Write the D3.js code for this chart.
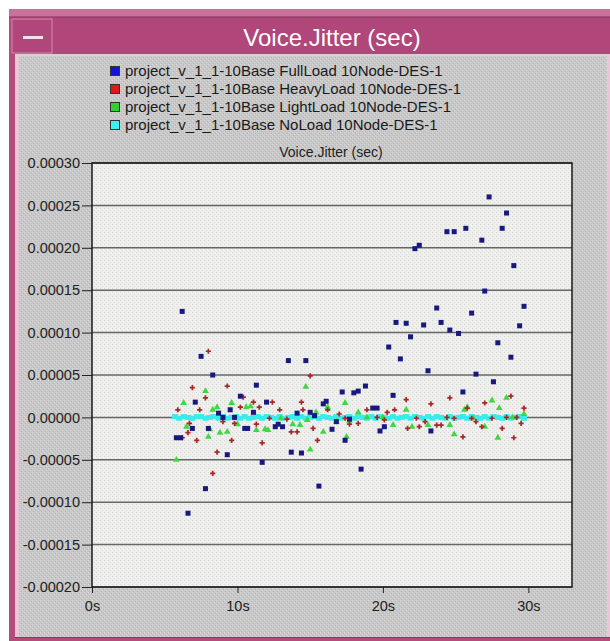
<!DOCTYPE html>
<html>
<head>
<meta charset="utf-8">
<script src="https://cdn.jsdelivr.net/npm/d3@7"></script>
<style>
  body { margin: 0; background: #fff; }
  svg { display: block; font-family: "Liberation Sans", Arial, sans-serif; }
</style>
</head>
<body>
<svg width="610" height="641"></svg>
<script>
// ************** Data *****************
// jitter values are in units of 1e-5 sec, time in sec

const UNIT = 1e-5;

const seriesNames = [
    "project_v_1_1-10Base FullLoad 10Node-DES-1",
    "project_v_1_1-10Base HeavyLoad 10Node-DES-1",
    "project_v_1_1-10Base LightLoad 10Node-DES-1",
    "project_v_1_1-10Base NoLoad 10Node-DES-1"
];

const fullLoad = [
    [5.8,-2.4],[6.1,-2.4],[6.2,12.5],[6.6,-11.3],[6.9,-1.3],[7.1,1.8],[7.5,7.2],[7.8,-8.4],
    [8.0,-1.3],[8.3,5.0],[8.7,0.5],[9.0,0.0],[9.3,-4.4],[9.5,0.9],[9.8,0.0],[10.2,2.5],
    [10.5,-1.3],[10.7,-1.3],[11.1,0.6],[11.3,3.8],[11.7,-5.3],[12.0,1.8],[12.6,-1.1],[12.8,-0.8],
    [13.1,-1.1],[13.5,6.7],[13.7,-4.1],[14.1,0.5],[14.4,-4.2],[14.7,6.7],[15.0,0.6],[15.3,0.2],
    [15.6,-8.1],[15.9,1.6],[16.1,1.9],[16.5,-1.4],[16.8,-0.5],[17.2,3.0],[17.4,-2.7],[17.7,-0.2],
    [18.0,2.9],[18.3,3.1],[18.5,-6.1],[18.8,3.7],[19.3,1.1],[19.6,1.1],[19.8,-1.6],[20.1,-1.1],
    [20.4,8.3],[20.7,2.6],[20.9,11.2],[21.2,6.9],[21.6,11.1],[21.9,9.5],[22.2,19.9],[22.5,20.3],
    [22.8,10.9],[23.1,5.5],[23.3,-1.6],[23.7,12.9],[24.0,11.2],[24.4,21.9],[24.6,10.3],[24.9,21.9],
    [25.2,9.9],[25.5,3.0],[25.7,22.3],[26.1,12.3],[26.4,5.1],[26.8,20.9],[27.0,14.9],[27.3,26.0],
    [27.6,4.2],[27.9,8.8],[28.2,22.3],[28.5,24.1],[28.8,7.1],[29.0,17.9],[29.4,10.8],[29.7,13.1]
];

const heavyLoad = [
    [5.9,0.9],[6.2,-2.4],[6.6,-1.8],[6.7,-0.7],[6.9,3.5],[7.2,-2.7],[7.4,0.9],[7.8,2.3],
    [8.0,7.8],[8.3,-6.6],[8.6,-4.1],[9.0,-0.5],[9.3,3.7],[9.6,-2.7],[9.8,-0.7],[10.2,1.2],
    [10.4,2.4],[11.1,1.8],[11.3,-0.8],[11.5,1.2],[11.7,-3.0],[12.2,-0.1],[12.4,1.8],[12.9,0.9],
    [13.4,-0.2],[13.7,-1.7],[14.1,-1.7],[14.4,1.8],[14.5,0.9],[15.0,4.9],[15.2,-1.3],[15.5,-2.7],
    [16.2,0.9],[17.0,0.4],[17.4,-0.1],[17.7,-0.8],[18.3,-0.7],[18.9,0.9],[19.6,0.0],[20.1,-0.3],
    [20.3,0.6],[20.8,0.9],[21.6,2.1],[21.7,-1.3],[22.3,-0.1],[22.5,-1.1],[22.9,-0.5],[23.3,1.6],
    [23.7,-0.9],[24.0,-0.9],[24.4,0.0],[24.6,2.3],[24.9,-0.1],[25.5,-2.3],[25.8,1.1],[26.1,-0.1],
    [26.4,-0.5],[26.8,-1.1],[27.0,1.7],[27.5,-0.1],[28.2,-1.3],[28.5,0.0],[28.8,2.5],[29.0,-2.4],
    [29.2,0.0],[29.5,-0.7],[29.7,1.1]
];

const lightLoad = [
    [5.8,-5.0],[6.3,1.7],[6.5,-1.1],[7.8,3.1],[8.0,-2.3],[8.1,-1.4],[8.3,0.9],[8.6,1.2],
    [8.8,-1.8],[9.3,-1.7],[9.6,1.7],[10.0,-0.8],[10.6,1.2],[10.9,1.3],[11.3,-1.5],[11.9,-1.4],
    [12.1,-1.5],[13.0,-0.1],[13.8,-0.8],[14.3,-0.9],[14.7,3.6],[14.8,-0.3],[15.0,-3.8],[15.4,0.6],
    [15.9,-1.7],[16.2,1.2],[16.8,-0.5],[17.4,1.7],[17.5,-2.3],[17.7,-0.4],[18.3,0.6],[18.9,0.0],
    [20.0,0.0],[20.7,-0.9],[21.6,0.9],[22.0,-1.1],[23.1,-0.9],[24.6,-0.9],[24.9,-2.0],[25.6,0.9],
    [25.8,1.2],[26.2,-0.1],[27.0,-1.1],[27.5,2.0],[27.9,-2.4],[28.0,1.1],[28.5,2.3],[28.9,0.0],
    [29.7,0.4]
];

const noLoad = [
    [5.7,0.1],[6.0,-0.1],[6.3,0.1],[6.6,0.0],[6.9,-0.1],[7.2,0.1],[7.5,0.1],[7.8,-0.1],
    [8.1,0.0],[8.4,0.1],[8.7,-0.1],[9.0,0.1],[9.3,-0.1],[9.6,0.0],[9.9,0.1],[10.2,-0.1],
    [10.5,0.1],[10.8,-0.1],[11.1,0.0],[11.4,0.1],[11.7,-0.1],[12.0,0.1],[12.3,0.0],[12.6,-0.1],
    [12.9,0.1],[13.2,-0.1],[13.5,0.0],[13.8,0.1],[14.1,-0.1],[14.4,0.1],[14.7,-0.1],[15.0,0.0],
    [15.3,0.1],[15.6,-0.1],[15.9,0.1],[16.2,0.0],[16.5,-0.1],[16.8,0.1],[17.1,-0.1],[17.4,0.0],
    [17.7,0.1],[18.0,-0.1],[18.3,0.1],[18.6,0.0],[18.9,-0.1],[19.2,0.1],[19.5,-0.1],[19.8,0.1],
    [20.1,0.0],[20.4,-0.1],[20.7,0.1],[21.0,-0.1],[21.3,0.0],[21.6,0.1],[21.9,-0.1],[22.2,0.1],
    [22.5,0.0],[22.8,-0.1],[23.1,0.1],[23.4,-0.1],[23.7,0.1],[24.0,0.0],[24.3,-0.1],[24.6,0.1],
    [24.9,-0.1],[25.2,0.0],[25.5,0.1],[25.8,-0.1],[26.1,0.1],[26.4,0.0],[26.7,-0.1],[27.0,0.1],
    [27.3,-0.1],[27.6,0.1],[27.9,0.0],[28.2,-0.1],[28.5,0.1],[28.8,-0.1],[29.1,0.0],[29.4,0.1],
    [29.7,-0.1]
];

const yTicks = [-0.0002, -0.00015, -0.0001, -0.00005, 0, 0.00005, 0.0001, 0.00015, 0.0002, 0.00025, 0.0003];
const xTicks = [0, 10, 20, 30];

const legendColors = ["#1414d8", "#e01818", "#30d030", "#40f0f0"];
const markColors = ["#18187e", "#a82828", "#40d840", "#38ecec"];


// *************** Frame *****************

let svg = d3.select("svg");
let defs = svg.append("defs");

// stippled grey like the old motif window
let bgPat = defs.append("pattern").attr("id", "bgTex")
    .attr("width", 4).attr("height", 4).attr("patternUnits", "userSpaceOnUse");
bgPat.append("rect").attr("width", 4).attr("height", 4).attr("fill", "#c8c8c8");
[[0,0,"#dadada"],[2,2,"#dadada"],[1,3,"#b4b4b4"],[3,1,"#b4b4b4"]].forEach(function(p){
    bgPat.append("rect").attr("x", p[0]).attr("y", p[1]).attr("width", 1).attr("height", 1).attr("fill", p[2]);
});

let plotPat = defs.append("pattern").attr("id", "plotTex")
    .attr("width", 4).attr("height", 4).attr("patternUnits", "userSpaceOnUse");
plotPat.append("rect").attr("width", 4).attr("height", 4).attr("fill", "#eeeeec");
[[0,0,"#d6d6d4"],[2,2,"#dcdcda"],[3,1,"#fafafa"]].forEach(function(p){
    plotPat.append("rect").attr("x", p[0]).attr("y", p[1]).attr("width", 1).attr("height", 1).attr("fill", p[2]);
});

svg.append("rect").attr("x", 9).attr("y", 9).attr("width", 601).attr("height", 632).attr("fill", "#b44c7c");
svg.append("rect").attr("x", 9).attr("y", 9).attr("width", 601).attr("height", 8).attr("fill", "#c8739c");
svg.append("line").attr("x1", 9).attr("x2", 610).attr("y1", 17).attr("y2", 17).attr("stroke", "#8a2e58");
svg.append("rect").attr("x", 11).attr("y", 18).attr("width", 599).attr("height", 36).attr("fill", "#b0467a");

// window menu button
svg.append("rect").attr("x", 12).attr("y", 19).attr("width", 40).attr("height", 34)
    .attr("fill", "none").attr("stroke", "#d48aac").attr("stroke-width", 1);
svg.append("rect").attr("x", 23).attr("y", 36).attr("width", 20).attr("height", 3).attr("fill", "#f4e0ea");

svg.append("text").attr("x", 332).attr("y", 46)
    .attr("text-anchor", "middle").attr("fill", "#ffffff")
    .style("font-size", "24px")
    .text("Voice.Jitter (sec)");

svg.append("rect").attr("x", 15).attr("y", 54).attr("width", 595).attr("height", 584).attr("fill", "#e6c8d6");
svg.append("rect").attr("x", 19).attr("y", 56).attr("width", 588).attr("height", 581).attr("fill", "url(#bgTex)");
svg.append("line").attr("x1", 15).attr("x2", 610).attr("y1", 637.5).attr("y2", 637.5).attr("stroke", "#555");


// *************** Legend *****************

let legend = svg.append("g");
seriesNames.forEach(function(name, i) {
    let cy = 71 + i * 18;
    legend.append("rect")
        .attr("x", 110.5).attr("y", cy - 4.5).attr("width", 9).attr("height", 9)
        .attr("fill", legendColors[i]).attr("stroke", "#333").attr("stroke-width", 1);
    legend.append("text")
        .attr("x", 125).attr("y", cy + 5)
        .attr("fill", "#1a1a1a").style("font-size", "15px")
        .text(name);
});

svg.append("text").attr("x", 331).attr("y", 157)
    .attr("text-anchor", "middle").attr("fill", "#222")
    .style("font-size", "14px")
    .text("Voice.Jitter (sec)");


// *************** Chart *****************

const plotLeft = 92, plotRight = 572, plotTop = 163, plotBottom = 587;

let xScale = d3.scaleLinear().domain([0, 33]).range([plotLeft, plotRight]);
let yScale = d3.scaleLinear().domain([-0.0002, 0.0003]).range([plotBottom, plotTop]);

svg.append("rect").attr("x", plotLeft).attr("y", plotTop)
    .attr("width", plotRight - plotLeft).attr("height", plotBottom - plotTop)
    .attr("fill", "url(#plotTex)");

// horizontal grid
svg.append("g").selectAll("line")
    .data(yTicks)
    .enter().append("line")
    .attr("x1", plotLeft).attr("x2", plotRight)
    .attr("y1", function(d) { return yScale(d); })
    .attr("y2", function(d) { return yScale(d); })
    .attr("stroke", "#666").attr("stroke-width", 1.5);

let yAxis = svg.append("g")
    .attr("transform", "translate(" + plotLeft + ",0)")
    .call(d3.axisLeft(yScale).tickValues(yTicks).tickSize(10).tickPadding(2)
        .tickFormat(function(d) { return d.toFixed(5); }));

let xAxis = svg.append("g")
    .attr("transform", "translate(0," + plotBottom + ")")
    .call(d3.axisBottom(xScale).tickValues(xTicks).tickSize(6).tickPadding(8)
        .tickFormat(function(d) { return d + "s"; }));

[yAxis, xAxis].forEach(function(ax) {
    ax.select(".domain").remove();
    ax.selectAll("line").attr("stroke", "#222");
    ax.selectAll("text").attr("fill", "#222").style("font-size", "14.5px")
        .style("font-family", "'Liberation Sans', Arial, sans-serif");
});

// plot frame
svg.append("rect").attr("x", plotLeft).attr("y", plotTop)
    .attr("width", plotRight - plotLeft).attr("height", plotBottom - plotTop)
    .attr("fill", "none").attr("stroke", "#1a1a1a").attr("stroke-width", 1.5);


// *************** Points *****************

let pts = svg.append("g");

// NoLoad drawn first, it forms the cyan band at zero
pts.selectAll(".noload")
    .data(noLoad)
    .enter().append("rect")
    .attr("class", "noload")
    .attr("x", function(d) { return xScale(d[0]) - 3; })
    .attr("y", function(d) { return yScale(d[1] * UNIT) - 2.5; })
    .attr("width", 6).attr("height", 5)
    .attr("fill", markColors[3]);

let tri = d3.symbol().type(d3.symbolTriangle).size(20);
pts.selectAll(".light")
    .data(lightLoad)
    .enter().append("path")
    .attr("class", "light")
    .attr("d", tri)
    .attr("transform", function(d) { return "translate(" + xScale(d[0]) + "," + yScale(d[1] * UNIT) + ")"; })
    .attr("fill", markColors[2]);

let cross = d3.symbol().type(d3.symbolCross).size(15);
pts.selectAll(".heavy")
    .data(heavyLoad)
    .enter().append("path")
    .attr("class", "heavy")
    .attr("d", cross)
    .attr("transform", function(d) { return "translate(" + xScale(d[0]) + "," + yScale(d[1] * UNIT) + ")"; })
    .attr("fill", markColors[1]);

pts.selectAll(".full")
    .data(fullLoad)
    .enter().append("rect")
    .attr("class", "full")
    .attr("x", function(d) { return xScale(d[0]) - 2.5; })
    .attr("y", function(d) { return yScale(d[1] * UNIT) - 2.5; })
    .attr("width", 5).attr("height", 5)
    .attr("fill", markColors[0]);

</script>
</body>
</html>
